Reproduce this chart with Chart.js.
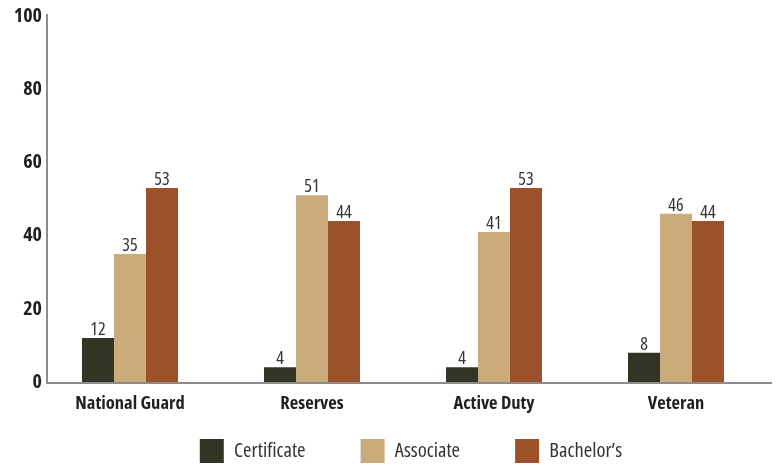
<!DOCTYPE html>
<html>
<head>
<meta charset="utf-8">
<script src="https://cdn.jsdelivr.net/npm/chart.js@4.4.1/dist/chart.umd.min.js"></script>
<style>
  html, body { margin: 0; padding: 0; background: #fff; }
  #wrap { width: 780px; height: 466px; }
</style>
</head>
<body>
<div id="wrap"><canvas id="chart"></canvas></div>
<script>
// Degree type by service status
const categories = ['National Guard', 'Reserves', 'Active Duty', 'Veteran'];
const certificate = [12, 4, 4, 8];
const associate = [35, 51, 41, 46];
const bachelors = [53, 44, 53, 44];
const yTicks = [0, 20, 40, 60, 80, 100];

// Open Sans has a condensed width, closest thing to the original face
const FAMILY = '"Open Sans", "DejaVu Sans Condensed", sans-serif';
const AXIS_GREY = '#8c8c8c';

// axis lines: the vertical one sits a little right of the first group
const axisLines = {
  id: 'axisLines',
  afterDatasetsDraw(chart) {
    const { ctx, chartArea } = chart;
    const x0 = chartArea.left + 8;
    const y0 = chart.scales.y.getPixelForValue(0) + 1;
    ctx.save();
    ctx.strokeStyle = AXIS_GREY;
    ctx.lineWidth = 2;
    ctx.beginPath();
    ctx.moveTo(x0, chart.scales.y.getPixelForValue(100) - 2);
    ctx.lineTo(x0, y0);
    ctx.lineTo(chartArea.right + 5, y0);
    ctx.stroke();
    ctx.restore();
  }
};

// value labels above each bar
const barValues = {
  id: 'barValues',
  afterDatasetsDraw(chart) {
    const { ctx } = chart;
    ctx.save();
    ctx.font = 'condensed 18px ' + FAMILY;
    ctx.fillStyle = '#333333';
    ctx.textAlign = 'center';
    ctx.textBaseline = 'alphabetic';
    chart.data.datasets.forEach((ds, i) => {
      chart.getDatasetMeta(i).data.forEach((bar, j) => {
        ctx.fillText(ds.data[j], bar.x, bar.y - 3);
      });
    });
    ctx.restore();
  }
};

// legend in the original sits a bit right of the plot centre
const legendNudge = {
  id: 'legendNudge',
  afterLayout(chart) {
    if (chart.legend) {
      chart.legend.left += 8;
      chart.legend.right += 8;
    }
  }
};

// scales are squeezed to fixed sizes, so don't clip their labels to the box
const noLabelClip = (scale) => { scale._computeLabelArea = () => undefined; };

new Chart(document.getElementById('chart'), {
  type: 'bar',
  data: {
    labels: categories,
    datasets: [
      { label: 'Certificate', data: certificate, backgroundColor: '#333524' },
      { label: 'Associate', data: associate, backgroundColor: '#cbaa7c' },
      { label: 'Bachelor\u2019s', data: bachelors, backgroundColor: '#9b522a' }
    ]
  },
  options: {
    responsive: true,
    maintainAspectRatio: false,
    animation: false,
    layout: { padding: { top: 16, left: 0, right: 13, bottom: -7 } },
    datasets: {
      bar: { categoryPercentage: 0.5275, barPercentage: 1.0, borderWidth: 0 }
    },
    plugins: {
      legend: {
        position: 'bottom',
        fullSize: false,
        labels: {
          boxWidth: 24,
          boxHeight: 24,
          padding: 55,
          color: '#333333',
          font: { family: FAMILY, size: 20.5, weight: 'condensed' }
        }
      },
      tooltip: { enabled: false }
    },
    scales: {
      x: {
        grid: { display: false, drawTicks: false },
        border: { display: false },
        afterFit: (scale) => { scale.height = 2; noLabelClip(scale); },
        ticks: {
          color: '#231f20',
          padding: 10.5,
          font: { family: FAMILY, size: 18.5, weight: 'condensed bold' }
        }
      },
      y: {
        min: 0,
        max: 100,
        grid: { display: false, drawTicks: false },
        border: { display: false },
        afterFit: (scale) => { scale.width = 39; noLabelClip(scale); },
        afterBuildTicks: (scale) => { scale.ticks = yTicks.map(v => ({ value: v })); },
        ticks: {
          color: '#231f20',
          padding: -3,
          font: { family: FAMILY, size: 20, weight: 'condensed bold' }
        }
      }
    }
  },
  plugins: [axisLines, barValues, legendNudge]
});
</script>
</body>
</html>
